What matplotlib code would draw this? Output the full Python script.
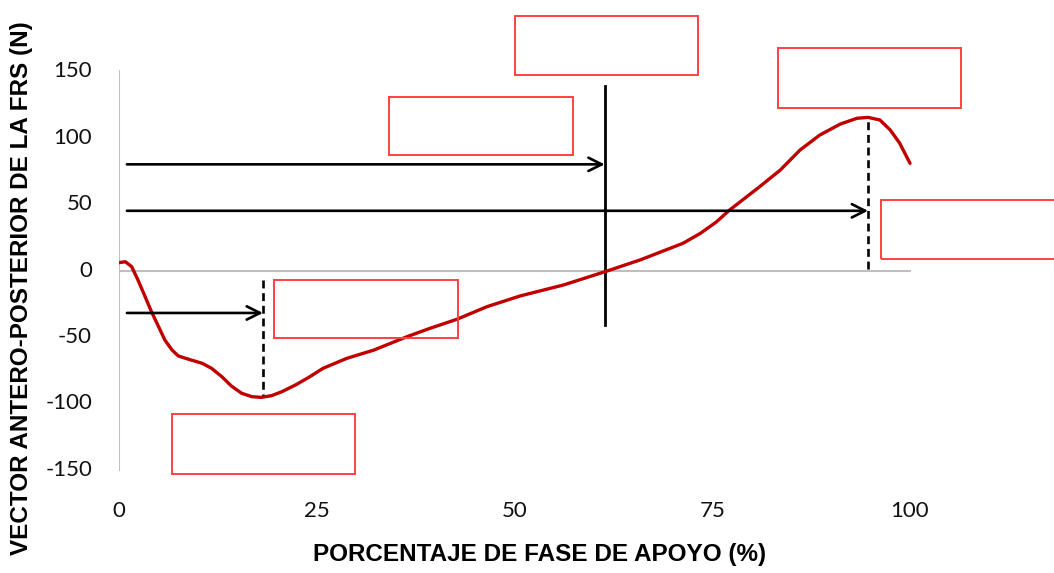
import matplotlib.pyplot as plt
from matplotlib.patches import Rectangle

# stance phase (%) vs antero-posterior GRF (N)
fase = [0, 0.8, 1.6, 2.4, 3.3, 4.1, 5.0, 5.8, 6.7, 7.5, 8.8, 10.5, 11.7,
        13.0, 14.2, 15.5, 16.8, 18.0, 19.3, 20.6, 22.3, 24.0, 25.8, 28.8,
        32.2, 36.4, 39.3, 42.7, 46.5, 50.7, 56.2, 61.7, 65.9, 71.3, 73.5,
        75.5, 77.2, 81.0, 83.6, 86.1, 88.6, 91.2, 93.3, 94.7, 96.2, 97.5,
        98.7, 100]
frs = [5.9, 6.6, 2.9, -7.2, -19.7, -31, -42.3, -52.4, -59.9, -64.4, -66.9,
       -69.9, -73.7, -80, -87, -92.5, -95.1, -95.6, -94.3, -91.3, -86.3,
       -80.5, -73.7, -66.2, -60, -49.9, -43.6, -36.8, -27.3, -19.2, -10.9,
       -0.4, 8, 20.5, 28, 36.5, 45.6, 63.2, 75.7, 90.8, 102.1, 110.4, 114.7,
       115.4, 113.4, 105.9, 95.9, 80.8]

xticks = [0, 25, 50, 75, 100]
yticks = [-150, -100, -50, 0, 50, 100, 150]

# arrows: (y, x_end)
flechas = [(80, 61.4), (45, 94.7), (-32, 18.2)]
# empty red boxes: (x0, y0, x1, y1)
cajas = [(50.1, 147.7, 73.2, 191.6),
         (34.1, 86.7, 57.4, 130.4),
         (83.3, 122.8, 106.4, 167.3),
         (96.3, 9, 125, 52.8),
         (19.6, -51, 42.9, -7.5),
         (6.7, -153, 29.8, -108.5)]

fig = plt.figure(figsize=(10.54, 5.73), dpi=100)
W, H = 1054, 573
ax = fig.add_axes([119 / W, 1 - 478 / H, (W - 119) / W, 468 / H])
ax.set_xlim(0, (W - 119) / 7.91)
ax.set_ylim((270.5 - 478) / 1.327, (270.5 - 10) / 1.327)
ax.axis('off')

gris = '#BFBFBF'
ax.plot([0, 100], [0, 0], color=gris, lw=1.5, zorder=1)
ax.plot([0, 0], [-150, 150], color=gris, lw=1.5, zorder=1)

ax.plot(fase, frs, color='#C00000', lw=2.4, zorder=3,
        solid_capstyle='round', solid_joinstyle='round')

for y, xe in flechas:
    ax.annotate('', xy=(xe, y), xytext=(1, y),
                arrowprops=dict(arrowstyle='->', color='black', lw=1.9,
                                mutation_scale=24, shrinkA=0, shrinkB=0))

ax.plot([61.5, 61.5], [-41, 139], color='black', lw=2.0, zorder=2)
ax.plot([18.2, 18.2], [-7.5, -95], color='black', lw=1.9, ls=(0, (3, 1.8)), zorder=2)
ax.plot([94.7, 94.7], [1.5, 115], color='black', lw=1.9, ls=(0, (3, 1.8)), zorder=2)

for x0, y0, x1, y1 in cajas:
    ax.add_patch(Rectangle((x0, y0), x1 - x0, y1 - y0, fill=False,
                           edgecolor='#FF4040', lw=1.4, clip_on=False, zorder=4))

for t in yticks:
    ax.text(-3.4, t, str(t), ha='right', va='center', fontsize=16,
            family='Lato', color='#111111', clip_on=False)
for t in xticks:
    ax.text(t, -181, str(t), ha='center', va='center', fontsize=16,
            family='Lato', color='#111111', clip_on=False)

fig.text(540 / W, 1 - 555 / H, 'PORCENTAJE DE FASE DE APOYO (%)', ha='center',
         va='center', fontsize=17.5, fontweight='bold', family='Liberation Sans')
fig.text(22 / W, 1 - 288 / H, 'VECTOR ANTERO-POSTERIOR DE LA FRS (N)', ha='center',
         va='center', rotation=90, fontsize=17.5, fontweight='bold',
         family='Liberation Sans')

fig.savefig('out.png', dpi=100)
